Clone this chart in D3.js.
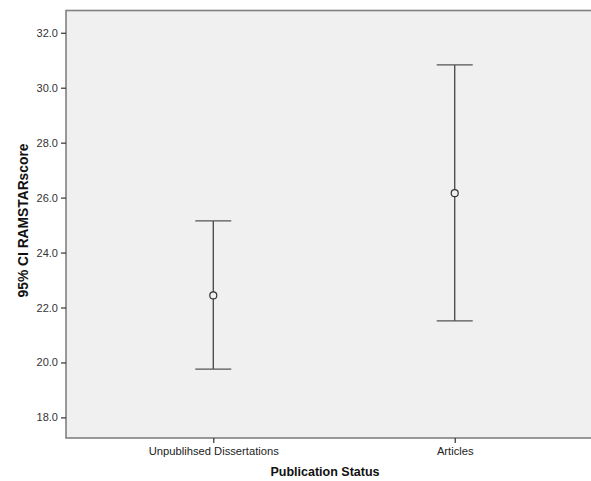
<!DOCTYPE html>
<html>
<head>
<meta charset="utf-8">
<script src="https://cdn.jsdelivr.net/npm/d3@7"></script>
<style>
  body { margin: 0; background: #fff; }
  svg { display: block; }
</style>
</head>
<body>
<script>
// data
var groups = ["Unpublihsed Dissertations", "Articles"];
var means = [22.44, 26.16];
var lower = [19.76, 21.51];
var upper = [25.15, 30.83];
var yTicks = [18, 20, 22, 24, 26, 28, 30, 32];

var width = 591, height = 481;
var plotLeft = 66, plotTop = 10.5, plotBottom = 438, plotRight = 602;

var svg = d3.select("body").append("svg")
    .attr("width", width).attr("height", height);

var x = d3.scalePoint()
    .domain(groups)
    .range([plotLeft, plotRight])
    .padding(0.61);

var y = d3.scaleLinear()
    .domain([17.25, 32.81])
    .range([plotBottom, plotTop]);

// plot background
svg.append("rect")
    .attr("x", plotLeft).attr("y", plotTop)
    .attr("width", plotRight - plotLeft).attr("height", plotBottom - plotTop)
    .style("fill", "#f0f0f0")
    .style("stroke", "#808080")
    .style("stroke-width", 1.6);

// y axis
var yAxis = svg.append("g")
    .attr("transform", "translate(" + plotLeft + ",0)")
    .call(d3.axisLeft(y).tickValues(yTicks).tickFormat(d3.format(".1f")).tickSize(5).tickPadding(3));
yAxis.select(".domain").remove();
yAxis.selectAll("line").style("stroke", "#333").style("stroke-width", 1.2);
yAxis.selectAll("text")
    .style("font-family", "'Liberation Sans', Arial, sans-serif")
    .style("font-size", "11px")
    .style("fill", "#333");

// x axis
var xAxis = svg.append("g")
    .attr("transform", "translate(0," + plotBottom + ")")
    .call(d3.axisBottom(x).tickSize(5).tickPadding(4));
xAxis.select(".domain").remove();
xAxis.selectAll("line").style("stroke", "#333").style("stroke-width", 1.2);
xAxis.selectAll("text")
    .style("font-family", "'Liberation Sans', Arial, sans-serif")
    .style("font-size", "11.2px")
    .style("fill", "#222");

// error bars
var bars = svg.append("g").selectAll("g")
    .data(groups)
    .enter().append("g");

bars.append("line")
    .attr("x1", function (d) { return x(d); })
    .attr("x2", function (d) { return x(d); })
    .attr("y1", function (d, i) { return y(upper[i]); })
    .attr("y2", function (d, i) { return y(lower[i]); })
    .style("stroke", "#444").style("stroke-width", 1.3);

[upper, lower].forEach(function (arr) {
  bars.append("line")
    .attr("x1", function (d) { return x(d) - 18; })
    .attr("x2", function (d) { return x(d) + 18; })
    .attr("y1", function (d, i) { return y(arr[i]); })
    .attr("y2", function (d, i) { return y(arr[i]); })
    .style("stroke", "#555").style("stroke-width", 1.3);
});

bars.append("circle")
    .attr("cx", function (d) { return x(d); })
    .attr("cy", function (d, i) { return y(means[i]); })
    .attr("r", 3.5)
    .style("fill", "#f0f0f0")
    .style("stroke", "#333")
    .style("stroke-width", 1.2);

// axis titles
svg.append("text")
    .attr("x", 325).attr("y", 476)
    .attr("text-anchor", "middle")
    .style("font-family", "'Liberation Sans', Arial, sans-serif")
    .style("font-weight", "bold")
    .style("font-size", "12.5px")
    .style("fill", "#111")
    .text("Publication Status");

svg.append("text")
    .attr("transform", "translate(28,220.5) rotate(-90)")
    .attr("text-anchor", "middle")
    .style("font-family", "'Liberation Sans', Arial, sans-serif")
    .style("font-weight", "bold")
    .style("font-size", "13.8px")
    .style("fill", "#111")
    .text("95% CI RAMSTARscore");
</script>
</body>
</html>
